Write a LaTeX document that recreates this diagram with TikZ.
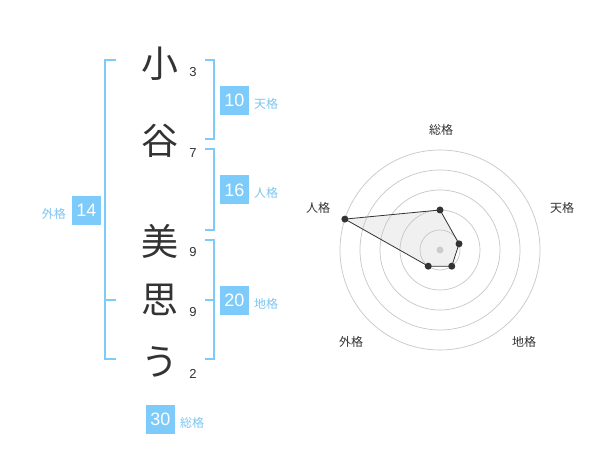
\documentclass[tikz,border=0pt]{standalone}
\usepackage{fontspec}
\setmainfont{Liberation Sans}
\newfontfamily\cjk{Noto Sans CJK JP}
\definecolor{blu}{RGB}{125,203,250}
\definecolor{lblu}{RGB}{125,198,240}
\definecolor{ink}{RGB}{51,51,51}
\begin{document}
\begin{tikzpicture}[x=1pt,y=-1pt,
  kanji/.style={font=\cjk\fontsize{37}{37}\selectfont, text=ink, inner sep=0pt},
  strokes/.style={font=\fontsize{13}{13}\selectfont, text=ink, inner sep=0pt},
  numbox/.style={fill=blu, text=white, minimum width=29pt, minimum height=29pt, inner sep=0pt, font=\fontsize{18}{18}\selectfont},
  kaku/.style={font=\cjk\fontsize{12}{12}\selectfont, text=lblu, inner sep=0pt},
  brk/.style={draw=blu, line width=2pt},
  ring/.style={draw=black!22, line width=0.7pt},
  axislabel/.style={font=\cjk\fontsize{12}{12}\selectfont, text=ink, inner sep=0pt},
  dot/.style={circle, fill=ink, inner sep=0pt, minimum size=7pt},
]
\useasboundingbox[fill=white] (0,0) rectangle (600,470);

% characters
\node[kanji] (c1) at (160,64) {小};
\node[kanji] (c2) at (160,141) {谷};
\node[kanji] (c3) at (160,241) {美};
\node[kanji] (c4) at (160,300) {思};
\node[kanji] (c5) at (160,362) {う};
% stroke counts
\node[strokes] (s1) at (193,72) {3};
\node[strokes] (s2) at (193,153) {7};
\node[strokes] (s3) at (193,252) {9};
\node[strokes] (s4) at (193,312) {9};
\node[strokes] (s5) at (193,374) {2};

% brackets
\draw[brk] (116,60) -- (105,60) -- (105,359) -- (116,359);
\draw[brk] (105,300) -- (116,300);
\draw[brk] (205,60) -- (214,60) -- (214,139) -- (205,139);
\draw[brk] (205,149) -- (214,149) -- (214,230) -- (205,230);
\draw[brk] (205,240) -- (214,240) -- (214,359) -- (205,359);
\draw[brk] (205,300) -- (214,300);

% number boxes and labels
\node[numbox] (ten) at (234.5,100.5) {10};
\node[kaku, anchor=west] (tenl) at (254,104) {天格};
\node[numbox] (jin) at (234.5,190) {16};
\node[kaku, anchor=west] (jinl) at (254,193) {人格};
\node[numbox] (chi) at (234.5,300.5) {20};
\node[kaku, anchor=west] (chil) at (254,304) {地格};
\node[numbox] (gai) at (86.5,210.5) {14};
\node[kaku, anchor=east] (gail) at (66,214) {外格};
\node[numbox] (sou) at (160.5,419.5) {30};
\node[kaku, anchor=west] (soul) at (180,423) {総格};

% radar chart
\begin{scope}[shift={(440,250)}, y=1pt]
  \coordinate (pS) at (90:40);
  \coordinate (pT) at (18:20);
  \coordinate (pC) at (-54:20);
  \coordinate (pG) at (-126:20);
  \coordinate (pJ) at (162:100);
  \fill[black!6] (pS) -- (pT) -- (pC) -- (pG) -- (pJ) -- cycle;
  \foreach \r in {20,40,60,80,100} \draw[ring] (0,0) circle (\r);
  \draw[ink, line width=0.8pt] (pS) -- (pT) -- (pC) -- (pG) -- (pJ) -- cycle;
  \node[circle, fill=black!20, inner sep=0pt, minimum size=7pt] (ctr) at (0,0) {};
  \foreach \p in {pS,pT,pC,pG,pJ} \node[dot] at (\p) {};
  \node[axislabel] (lS) at (1,120) {総格};
  \node[axislabel] (lT) at (122,42) {天格};
  \node[axislabel] (lJ) at (-122,42) {人格};
  \node[axislabel] (lG) at (-89,-92) {外格};
  \node[axislabel] (lC) at (84,-92) {地格};
\end{scope}
\end{tikzpicture}
\end{document}
